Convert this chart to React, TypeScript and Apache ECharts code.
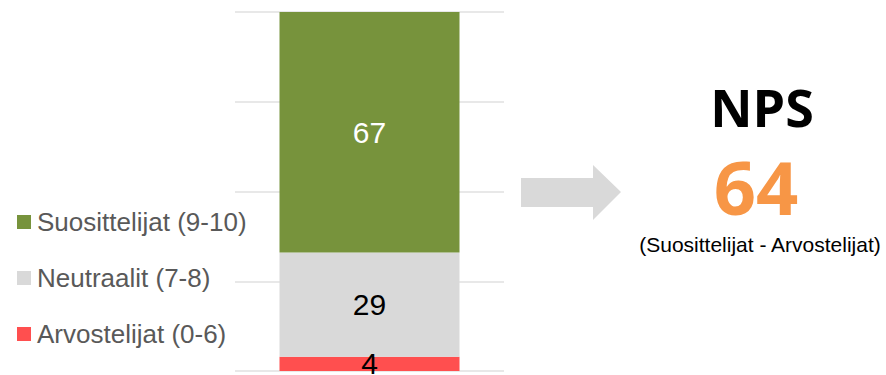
import React, { useEffect, useRef } from "react";
import * as echarts from "echarts";

// NPS distribution (percent of respondents)
const categories = ["NPS"];
const seriesNames = ["Arvostelijat (0-6)", "Neutraalit (7-8)", "Suosittelijat (9-10)"];
const detractors = [4];
const passives = [29];
const promoters = [67];
const npsValue = 64;
const npsTitle = "NPS";
const npsFormula = "(Suosittelijat - Arvostelijat)";
const yTicks = [0, 25, 50, 75, 100];

const COLORS = {
  detractor: "#ff4f4f",
  passive: "#d9d9d9",
  promoter: "#77933c",
  orange: "#f79646",
};

export default function App() {
  const ref = useRef<HTMLDivElement>(null);

  useEffect(() => {
    if (!ref.current) return;
    const chart = echarts.init(ref.current, undefined, { renderer: "svg" });

    const labelStyle = (color: string) => ({
      show: true,
      position: "inside" as const,
      color,
      fontFamily: "Liberation Sans, Arial, sans-serif",
      fontSize: 30,
    });

    chart.setOption({
      animation: false,
      grid: { left: 235, right: 382, top: 12, bottom: 4 },
      xAxis: {
        type: "category",
        data: categories,
        show: false,
      },
      yAxis: {
        type: "value",
        min: yTicks[0],
        max: yTicks[yTicks.length - 1],
        interval: 25,
        axisLabel: { show: false },
        axisLine: { show: false },
        axisTick: { show: false },
        splitLine: { lineStyle: { color: "#e0e0e0", width: 1.5 } },
      },
      legend: {
        orient: "vertical",
        left: 17,
        top: 209,
        padding: 0,
        data: [seriesNames[2], seriesNames[1], seriesNames[0]],
        icon: "rect",
        itemWidth: 14,
        itemHeight: 14,
        itemGap: 30,
        textStyle: {
          fontFamily: "Liberation Sans, Arial, sans-serif",
          fontSize: 26,
          color: "#595959",
          lineHeight: 26,
          padding: [0, 0, 0, 1],
        },
      },
      series: [
        {
          name: seriesNames[0],
          type: "bar",
          stack: "nps",
          barWidth: 180,
          data: detractors,
          itemStyle: { color: COLORS.detractor },
          label: labelStyle("#000000"),
        },
        {
          name: seriesNames[1],
          type: "bar",
          stack: "nps",
          barWidth: 180,
          data: passives,
          itemStyle: { color: COLORS.passive },
          label: labelStyle("#000000"),
        },
        {
          name: seriesNames[2],
          type: "bar",
          stack: "nps",
          barWidth: 180,
          data: promoters,
          itemStyle: { color: COLORS.promoter },
          label: labelStyle("#ffffff"),
        },
      ],
      graphic: [
        {
          type: "polygon",
          shape: {
            points: [
              [521, 178],
              [593, 178],
              [593, 165],
              [621, 192],
              [593, 220],
              [593, 207],
              [521, 207],
            ],
          },
          style: { fill: "#d9d9d9" },
        },
        {
          type: "text",
          x: 762,
          y: 106,
          style: {
            text: npsTitle,
            fontFamily: "Open Sans, sans-serif",
            fontWeight: "bold",
            fontSize: 52,
            fill: "#000000",
            textAlign: "center",
            textVerticalAlign: "middle",
          },
        },
        {
          type: "text",
          x: 756,
          y: 186,
          style: {
            text: String(npsValue),
            fontFamily: "Open Sans, sans-serif",
            fontWeight: "bold",
            fontSize: 74,
            lineHeight: 56,
            fill: COLORS.orange,
            textAlign: "center",
            textVerticalAlign: "middle",
          },
        },
        {
          type: "text",
          x: 760,
          y: 244,
          style: {
            text: npsFormula,
            fontFamily: "Liberation Sans, Arial, sans-serif",
            fontSize: 21,
            lineHeight: 22,
            fill: "#000000",
            textAlign: "center",
            textVerticalAlign: "middle",
          },
        },
      ],
    });

    return () => chart.dispose();
  }, []);

  return <div ref={ref} style={{ width: 886, height: 375, position: "absolute", left: 0, top: 0 }} />;
}
